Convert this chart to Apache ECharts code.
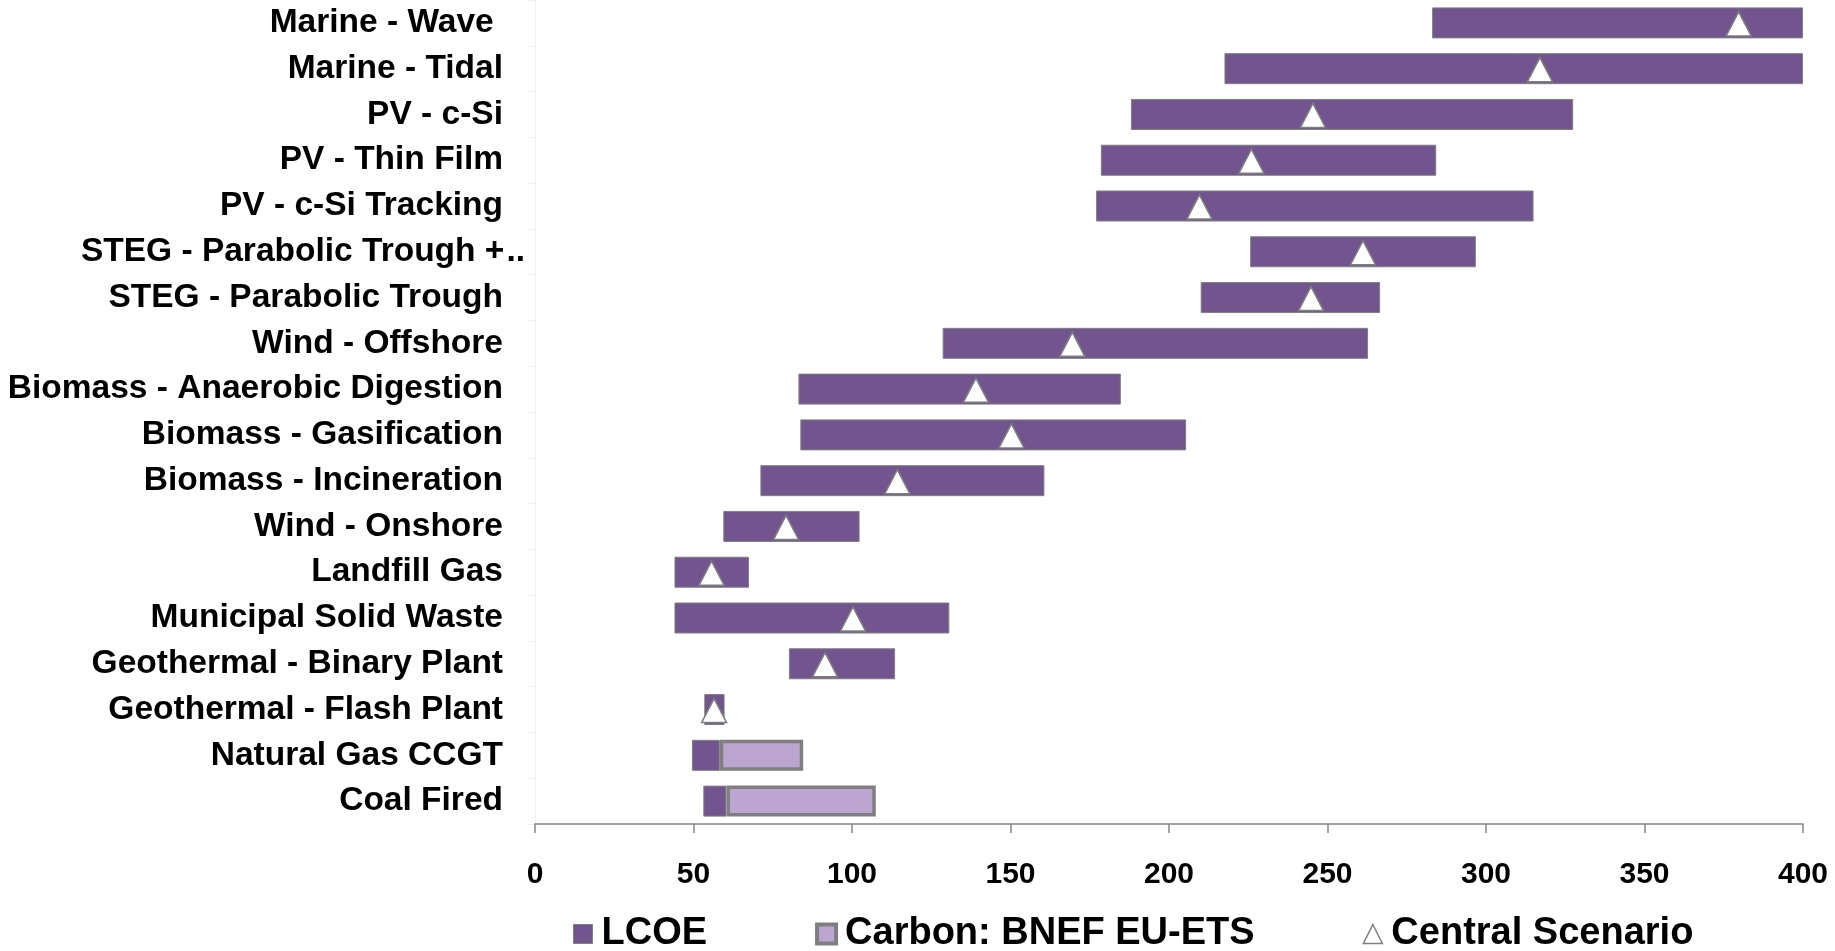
<!DOCTYPE html>
<html>
<head>
<meta charset="utf-8">
<script src="https://cdn.jsdelivr.net/npm/echarts@6/dist/echarts.min.js"></script>
<style>
  html, body { margin: 0; padding: 0; background: #fff; }
  #main { width: 1835px; height: 951px; }
</style>
</head>
<body>
<div id="main"></div>
<script>
// technologies, top to bottom
var categories = [
  'Marine - Wave ', 'Marine - Tidal', 'PV - c-Si', 'PV - Thin Film', 'PV - c-Si Tracking',
  'STEG - Parabolic Trough +..', 'STEG - Parabolic Trough', 'Wind - Offshore',
  'Biomass - Anaerobic Digestion', 'Biomass - Gasification', 'Biomass - Incineration',
  'Wind - Onshore', 'Landfill Gas', 'Municipal Solid Waste', 'Geothermal - Binary Plant',
  'Geothermal - Flash Plant', 'Natural Gas CCGT', 'Coal Fired'
]
// LCOE range (low / high)
var lcoeLow  = [283, 217.5, 188, 178.5, 177, 225.6, 210, 128.6, 83.1, 83.7, 71.1, 59.4, 44, 44, 80.1, 53.4, 49.5, 53.1]
var lcoeHigh = [400, 400, 327.5, 284.3, 315, 296.8, 266.6, 262.8, 184.8, 205.4, 160.7, 102.4, 67.5, 130.7, 113.6, 59.8, 58.3, 60.4]
// LCOE incl. carbon cost (BNEF EU-ETS), only fossil plants
var carbonHigh = [null, null, null, null, null, null, null, null, null, null, null, null, null, null, null, null, 84.6, 107.5]
// central scenario
var central = [379.7, 317, 245.4, 226, 209.6, 261.2, 244.8, 169.5, 139.1, 150.3, 114.3, 79.2, 55.7, 100.3, 91.5, 56.5, null, null]
var xTicks = [0, 50, 100, 150, 200, 250, 300, 350, 400]

var purple = '#72548f'
var lilac = '#bca5d1'
var grey = '#7f7f7f'
var font = 'Liberation Sans, Arial, sans-serif'

// stacked pieces built from the arrays above
var baseData = lcoeLow.map(function (v) { return v })
var lcoeData = lcoeHigh.map(function (v, i) { return +(v - lcoeLow[i]).toFixed(2) })
var carbonData = carbonHigh.map(function (v, i) { return v == null ? '-' : +(v - lcoeHigh[i]).toFixed(2) })
var centralData = []
central.forEach(function (v, i) { if (v != null) centralData.push([v, categories[i]]) })

var myChart = echarts.init(document.getElementById('main'))
var option = {
  animation: false,
  backgroundColor: '#fff',
  grid: { left: 535, right: 32, top: -2, bottom: 127 },
  legend: {
    left: 568,
    top: 910,
    itemWidth: 19,
    itemHeight: 19,
    itemGap: 108,
    textStyle: { fontFamily: font, fontWeight: 'bold', fontSize: 38, color: '#000', padding: [0, 0, 0, 4] },
    data: [
      { name: 'LCOE', icon: 'rect', itemStyle: { color: purple, borderColor: grey, borderWidth: 1 } },
      { name: 'Carbon: BNEF EU-ETS', icon: 'rect', itemStyle: { color: lilac, borderColor: grey, borderWidth: 4 } },
      { name: 'Central Scenario', icon: 'triangle', itemStyle: { color: '#fff', borderColor: grey, borderWidth: 1.5 } }
    ]
  },
  xAxis: {
    type: 'value',
    min: xTicks[0],
    max: xTicks[xTicks.length - 1],
    interval: 50,
    splitLine: { show: false },
    axisLine: { show: true, lineStyle: { color: '#868686', width: 1.5 } },
    axisTick: { show: true, length: 9, lineStyle: { color: '#868686', width: 1.5 } },
    axisLabel: { margin: 36, fontFamily: font, fontWeight: 'bold', fontSize: 30, color: '#000' }
  },
  yAxis: {
    type: 'category',
    inverse: true,
    data: categories,
    axisLine: { show: true, lineStyle: { color: '#f0f0f0', width: 1 } },
    axisTick: { show: true, length: 8, lineStyle: { color: '#f0f0f0' } },
    axisLabel: {
      margin: 32,
      fontFamily: font, fontWeight: 'bold', fontSize: 33.5, color: '#000',
      formatter: function (v) {
        // truncated label: the dots spill past the label column
        if (v.slice(-2) === '..') return '{a|' + v.slice(0, -2) + '}{d|..}'
        return v
      },
      rich: {
        a: { fontFamily: font, fontWeight: 'bold', fontSize: 33.5, color: '#000' },
        d: { fontFamily: font, fontWeight: 'bold', fontSize: 33.5, color: '#000', padding: [0, -22, 0, 2] }
      }
    }
  },
  series: [
    {
      name: 'base',
      type: 'bar',
      stack: 'r',
      barWidth: 31,
      silent: true,
      itemStyle: { color: 'rgba(0,0,0,0)' },
      data: baseData
    },
    {
      name: 'LCOE',
      type: 'bar',
      stack: 'r',
      barWidth: 31,
      itemStyle: { color: purple, borderColor: grey, borderWidth: 1 },
      data: lcoeData
    },
    {
      name: 'Carbon: BNEF EU-ETS',
      type: 'bar',
      stack: 'r',
      barWidth: 31,
      itemStyle: { color: lilac, borderColor: grey, borderWidth: 3.5 },
      data: carbonData
    },
    {
      name: 'Central Scenario',
      type: 'scatter',
      symbol: 'triangle',
      symbolSize: [25, 24],
      symbolOffset: [0, 1],
      z: 5,
      itemStyle: { color: '#fff', borderColor: grey, borderWidth: 1.5, opacity: 1 },
      data: centralData
    }
  ]
}
myChart.setOption(option)
</script>
</body>
</html>
